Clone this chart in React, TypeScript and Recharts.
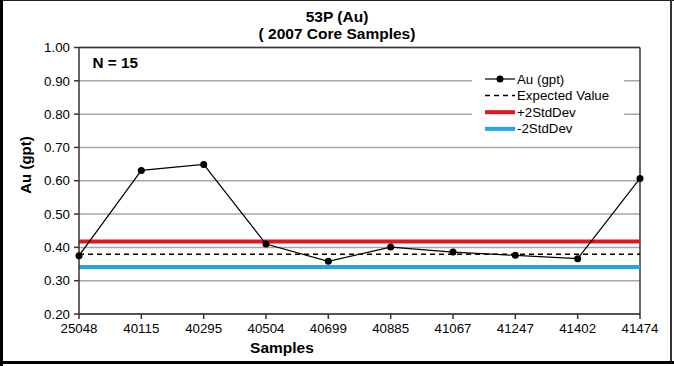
import React from 'react';
import { LineChart, Line, XAxis, YAxis, CartesianGrid, ReferenceLine, Legend } from 'recharts';

const samples = ['25048', '40115', '40295', '40504', '40699', '40885', '41067', '41247', '41402', '41474'];
const auValues = [0.375, 0.631, 0.649, 0.41, 0.358, 0.401, 0.386, 0.376, 0.366, 0.607];
const expectedValue = 0.379;
const plus2StdDev = 0.418;
const minus2StdDev = 0.341;
const yTicks = [0.2, 0.3, 0.4, 0.5, 0.6, 0.7, 0.8, 0.9, 1.0];
const seriesNames = ['Au (gpt)', 'Expected Value', '+2StdDev', '-2StdDev'];

const data = samples.map((s, i) => ({
  sample: s,
  au: auValues[i],
  expected: expectedValue,
  plus: plus2StdDev,
  minus: minus2StdDev,
}));

const FONT = '"Liberation Sans", Arial, sans-serif';

const legendStyles: Record<string, { color: string; width: number; dash?: string; dot?: boolean }> = {
  au: { color: '#000', width: 1.2, dot: true },
  expected: { color: '#000', width: 1.5, dash: '5 4' },
  plus: { color: '#e8141c', width: 4 },
  minus: { color: '#22a8e0', width: 4 },
};

const LegendContent = (props: any) => {
  const order = ['au', 'expected', 'plus', 'minus'];
  const payload: any[] = props.payload || [];
  const items = order
    .map((k) => payload.find((p) => p.dataKey === k))
    .filter(Boolean);
  return (
    <div style={{ background: '#fff', width: 152, height: 72, position: 'relative' }}>
      <svg width={152} height={72}>
        {items.map((it: any, i: number) => {
          const st = legendStyles[it.dataKey];
          const y = 11 + i * 16.6;
          return (
            <g key={it.dataKey}>
              <line x1={13} x2={43} y1={y} y2={y} stroke={st.color} strokeWidth={st.width} strokeDasharray={st.dash} />
              {st.dot && <circle cx={28} cy={y} r={3.5} fill="#000" />}
              <text x={45} y={y} dy="0.35em" fontSize={13.3} fontFamily={FONT} fill="#000">
                {it.value}
              </text>
            </g>
          );
        })}
      </svg>
    </div>
  );
};

export default function App() {
  return (
    <div style={{ position: 'absolute', left: 0, top: 0, width: 674, height: 366, background: '#fff', fontFamily: FONT }}>
      <LineChart width={674} height={366} data={data} margin={{ top: 47.5, right: 34, bottom: 0, left: 0 }}>
        <CartesianGrid horizontal vertical={false} stroke="#a6a6a6" strokeWidth={1.5} />
        <XAxis
          dataKey="sample"
          height={52}
          tickSize={5}
          tickMargin={5}
          stroke="#333"
          strokeWidth={1.5}
          tick={{ fill: '#000', fontSize: 13.3, fontFamily: FONT }}
          interval={0}
        />
        <YAxis
          width={79}
          domain={[0.2, 1.0]}
          ticks={yTicks}
          tickSize={5}
          tickMargin={4}
          stroke="#333"
          strokeWidth={1.5}
          tickFormatter={(v: number) => v.toFixed(2)}
          tick={{ fill: '#000', fontSize: 13.3, fontFamily: FONT }}
        />
        <ReferenceLine y={1.0} stroke="#333" strokeWidth={1.5} />
        <ReferenceLine x="41474" stroke="#333" strokeWidth={1.5} />
        <Line dataKey="plus" name={seriesNames[2]} stroke="#e8141c" strokeWidth={4} dot={false} isAnimationActive={false} />
        <Line dataKey="minus" name={seriesNames[3]} stroke="#22a8e0" strokeWidth={4} dot={false} isAnimationActive={false} />
        <Line dataKey="expected" name={seriesNames[1]} stroke="#000" strokeWidth={1.5} strokeDasharray="5 4" dot={false} isAnimationActive={false} />
        <Line
          dataKey="au"
          name={seriesNames[0]}
          stroke="#000"
          strokeWidth={1.2}
          dot={{ r: 3.5, fill: '#000', stroke: '#000', strokeWidth: 0 }}
          isAnimationActive={false}
        />
        <Legend
          layout="horizontal"
          verticalAlign="middle"
          align="center"
          content={<LegendContent />}
          wrapperStyle={{ left: 472, top: 68, width: 152, height: 72 }}
        />
      </LineChart>
      <svg width={674} height={366} style={{ position: 'absolute', left: 0, top: 0, pointerEvents: 'none' }}>
        <text x={337} y={17} dy="0.35em" textAnchor="middle" fontSize={15.5} fontWeight="bold" fontFamily={FONT}>53P (Au)</text>
        <text x={337} y={34} dy="0.35em" textAnchor="middle" fontSize={15.5} fontWeight="bold" fontFamily={FONT}>( 2007 Core Samples)</text>
        <text x={92.5} y={63} dy="0.35em" fontSize={15.3} fontWeight="bold" fontFamily={FONT}>N = 15</text>
        <text x={26} y={165} dy="0.35em" textAnchor="middle" fontSize={15} fontWeight="bold" fontFamily={FONT} transform="rotate(-90 26 165)">Au  (gpt)</text>
        <text x={282} y={348} dy="0.35em" textAnchor="middle" fontSize={15.5} fontWeight="bold" fontFamily={FONT}>Samples</text>
        <rect x={0} y={0} width={674} height={1} fill="#222" />
        <rect x={0} y={0} width={3} height={366} fill="#000" />
        <rect x={670} y={0} width={2} height={364} fill="#333" />
        <rect x={0} y={361} width={674} height={3} fill="#000" />
      </svg>
    </div>
  );
}
